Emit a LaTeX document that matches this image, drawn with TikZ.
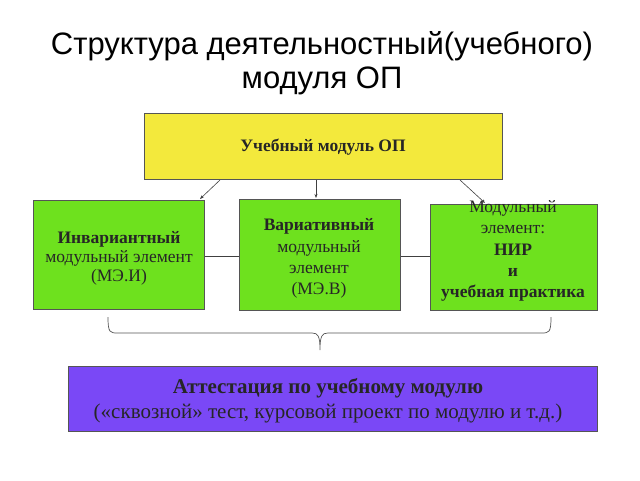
\documentclass[tikz,border=0pt]{standalone}
\usepackage{fontspec}
\setmainfont{Liberation Serif}
\newfontfamily\titlefont{Liberation Sans}
\usetikzlibrary{arrows.meta}
\definecolor{boxyellow}{HTML}{F3E93C}
\definecolor{boxgreen}{HTML}{6EE11E}
\definecolor{boxpurple}{HTML}{7A48F6}
\definecolor{edge}{HTML}{555555}
\tikzset{
  box/.style={draw=edge, line width=0.8pt, inner sep=0pt, align=center, anchor=north west, text=black},
  conn/.style={draw=black!75, line width=0.6pt},
  arr/.style={conn, -{Stealth[length=4pt,width=3pt]}},
  btext/.style={align=center, inner sep=0pt, text=black!85},
}
\begin{document}
\begin{tikzpicture}[x=1pt,y=-1pt]
\useasboundingbox (0,0) rectangle (640,480);
% title
\node (t1) at (322,46) {\titlefont\fontsize{31}{33}\selectfont Структура деятельностный(учебного)};
\node (t2) at (322,81) {\titlefont\fontsize{31}{33}\selectfont модуля ОП};
% boxes
\node[box, fill=boxyellow, minimum width=358pt, minimum height=66pt] (top) at (144,113) {};
\node[btext, font=\fontsize{17.5}{19}\selectfont\bfseries] (topt) at (323,147) {Учебный модуль ОП};
\node[box, fill=boxgreen, minimum width=171pt, minimum height=109pt] (b1) at (33,200) {};
\node[btext, font=\fontsize{17.5}{19}\selectfont] (b1t) at (119,258.5) {\textbf{Инвариантный}\\модульный элемент\\(МЭ.И)};
\node[box, fill=boxgreen, minimum width=161pt, minimum height=111pt] (b2) at (239,199) {};
\node[btext, font=\fontsize{17.5}{21.2}\selectfont] (b2t) at (319,258.5) {\textbf{Вариативный}\\модульный\\элемент\\(МЭ.В)};
\node[box, fill=boxgreen, minimum width=167pt, minimum height=106pt] (b3) at (430,204) {};
\node[btext, font=\fontsize{17.5}{21.2}\selectfont] (b3t) at (513,251) {Модульный\\элемент:\\\textbf{НИР}\\\textbf{и}\\\textbf{учебная практика}};
\node[box, fill=boxpurple, minimum width=529pt, minimum height=65pt] (bot) at (68,366) {};
\node[btext, font=\fontsize{21}{25}\selectfont] (bott) at (328,401) {\textbf{Аттестация по учебному модулю}\\(«сквозной» тест, курсовой проект по модулю и т.д.)};
% arrows
\coordinate (a1s) at (220,180); \coordinate (a1e) at (200,199);
\coordinate (a2s) at (316,180); \coordinate (a2e) at (316,198);
\coordinate (a3s) at (460,180); \coordinate (a3e) at (485,203);
\draw[arr] (a1s) -- (a1e);
\draw[arr] (a2s) -- (a2e);
\draw[arr] (a3s) -- (a3e);
% connectors
\draw[conn] (b1.east |- 0,256) -- (b2.west |- 0,256);
\draw[conn] (b2.east |- 0,256) -- (b3.west |- 0,256);
% brace
\coordinate (brl) at (108,317);
\coordinate (brr) at (551,317);
\coordinate (brt) at (320,350);
\draw[draw=edge, line width=0.7pt]
  (brl) .. controls (108,333) and (110,333) .. (118,333) -- (312,333)
  .. controls (318,333) and (320,336) .. (brt)
  .. controls (320,336) and (322,333) .. (328,333) -- (541,333)
  .. controls (549,333) and (551,333) .. (brr);
\end{tikzpicture}
\end{document}
